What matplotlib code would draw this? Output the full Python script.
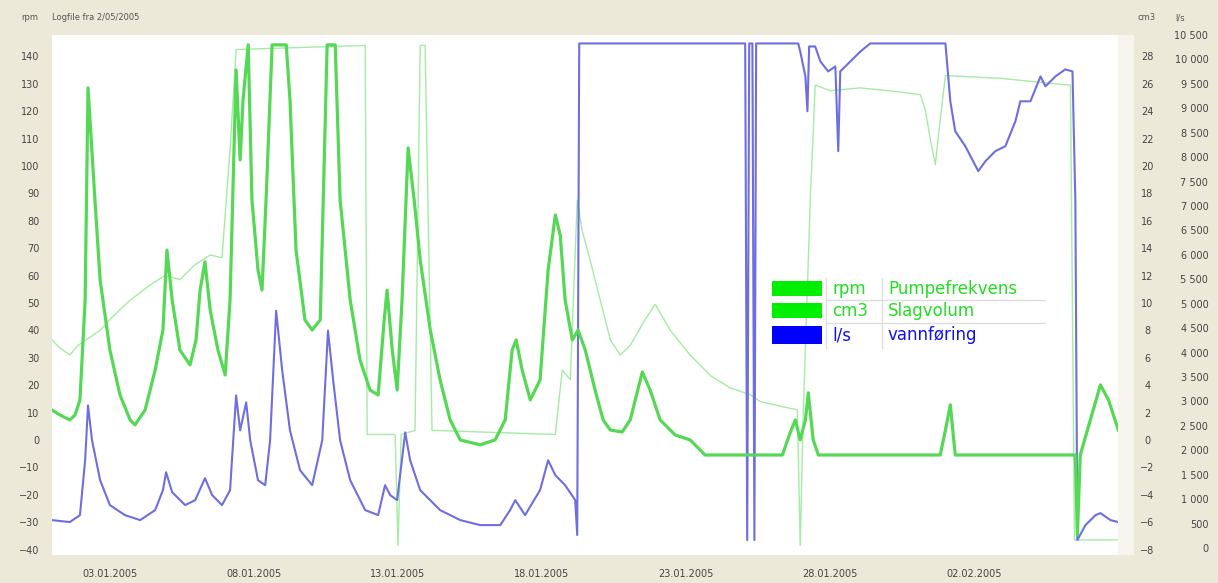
import numpy as np
import pandas as pd
import matplotlib
matplotlib.use("Agg")
import matplotlib.pyplot as plt
from matplotlib.patches import Rectangle
from matplotlib.lines import Line2D
from matplotlib.ticker import FuncFormatter

start = pd.Timestamp("2005-01-01")

# Pumpefrekvens (rpm) - days since 01.01.2005
rpm_days = [0.00, 0.28, 0.62, 0.80, 0.97, 1.15, 1.25, 1.49, 1.67, 2.01, 2.36, 2.71, 2.88, 3.23, 3.58,
            3.85, 3.99, 4.17, 4.44, 4.79, 5.00, 5.14, 5.31, 5.49, 5.76, 6.01, 6.18, 6.39, 6.53, 6.63,
            6.81, 6.94, 7.15, 7.29, 7.43, 7.64, 8.13, 8.26, 8.47, 8.78, 9.03, 9.31, 9.55, 9.83, 10.00,
            10.35, 10.69, 11.04, 11.32, 11.53, 11.63, 11.81, 11.98, 12.15, 12.36, 12.57, 12.78, 13.13,
            13.47, 13.82, 14.17, 14.86, 15.38, 15.73, 15.97, 16.11, 16.32, 16.60, 16.94, 17.22, 17.47,
            17.64, 17.81, 18.06, 18.26, 18.51, 18.85, 19.13, 19.38, 19.79, 20.07, 20.49, 20.76, 21.11,
            21.63, 22.15, 22.67, 25.35, 25.63, 25.80, 25.97, 26.15, 26.25, 26.42, 26.60, 30.83, 31.01,
            31.18, 31.35, 35.52, 35.59, 35.69, 36.04, 36.39, 36.67, 37.01]
rpm_vals = [10.9, 9.1, 7.3, 9.1, 14.6, 51.1, 128.5, 87.6, 58.4, 32.8, 16.4, 7.3, 5.5, 10.9, 25.5,
            40.1, 69.3, 51.1, 32.8, 27.4, 36.5, 54.7, 65.0, 47.4, 32.8, 23.7, 51.1, 135.0, 102.2, 124.1,
            144.2, 87.6, 62.0, 54.7, 87.6, 144.2, 144.2, 124.1, 69.3, 43.8, 40.1, 43.8, 144.2, 144.2, 87.6,
            51.1, 29.2, 18.2, 16.4, 43.8, 54.7, 32.8, 18.2, 51.1, 106.6, 87.6, 65.7, 40.1,
            21.9, 7.3, 0.0, -1.8, 0.0, 7.3, 32.8, 36.5, 25.5, 14.6, 21.9, 62.0, 82.1,
            74.8, 51.1, 36.5, 40.1, 32.8, 18.2, 7.3, 3.6, 2.9, 7.3, 24.8, 18.2, 7.3,
            1.8, 0.0, -5.5, -5.5, 2.9, 7.3, 0.0, 7.3, 17.2, 0.0, -5.5, -5.5, 3.6,
            12.8, -5.5, -5.5, -34.7, -5.5, 7.3, 20.1, 14.6, 3.6]

# Slagvolum (cm3)
cm3_days = [0.00, 0.28, 0.62, 0.90, 1.67, 2.01, 2.71, 3.40, 3.92, 4.44, 4.97, 5.49, 5.90, 6.18, 6.39,
            10.87, 10.94, 11.91, 12.01, 12.12, 12.60, 12.78, 12.95, 13.19, 17.47, 17.71, 17.99, 18.23,
            18.40, 18.68, 19.03, 19.38, 19.72, 20.07, 20.59, 20.94, 21.46, 22.15, 22.85, 23.54, 24.24,
            24.58, 25.63, 25.87, 25.97, 26.08, 26.32, 26.49, 27.01, 28.06, 29.44, 30.14, 30.31, 30.49,
            30.66, 30.83, 31.01, 32.92, 34.31, 35.35, 35.49, 37.01]
cm3_vals = [7.3, 6.7, 6.2, 6.9, 8.0, 8.8, 10.2, 11.3, 12.0, 11.7, 12.8, 13.5, 13.3, 21.2, 28.5,
            28.8, 0.4, 0.4, -7.7, 0.4, 0.7, 28.8, 28.8, 0.7, 0.4, 5.1, 4.4, 17.5,
            15.3, 13.1, 10.2, 7.3, 6.2, 6.9, 8.8, 9.9, 8.0, 6.2, 4.7, 3.8, 3.3,
            2.8, 2.3, 2.2, -7.7, 2.2, 17.5, 25.9, 25.5, 25.7, 25.4, 25.2, 24.1, 21.9,
            20.1, 23.4, 26.6, 26.4, 26.1, 25.9, -7.3, -7.3]

# vannføring (l/s)
ls_days = [0.00, 0.62, 0.97, 1.15, 1.25, 1.39, 1.67, 2.01, 2.53, 3.06, 3.58, 3.85, 3.96, 4.17, 4.62,
           4.97, 5.31, 5.56, 5.90, 6.18, 6.39, 6.53, 6.74, 6.88, 7.15, 7.40, 7.57, 7.78, 7.99, 8.26,
           8.61, 9.03, 9.38, 9.58, 9.76, 10.00, 10.35, 10.87, 11.32, 11.56, 11.74, 11.98, 12.26, 12.43,
           12.78, 13.47, 14.17, 14.86, 15.56, 15.90, 16.08, 16.42, 16.94, 17.22, 17.47, 17.81, 18.16,
           18.23, 18.30, 24.06, 24.13, 24.20, 24.31, 24.38, 24.44, 25.90, 25.97, 26.15, 26.22, 26.28,
           26.49, 26.67, 26.94, 27.19, 27.29, 27.36, 27.71, 28.06, 28.40, 31.01, 31.18, 31.35, 31.70,
           32.15, 32.40, 32.74, 33.09, 33.44, 33.61, 33.96, 34.31, 34.48, 34.83, 35.17, 35.42, 35.52,
           35.59, 35.87, 36.22, 36.39, 36.74, 37.01]
ls_vals = [571, 531, 673, 1796, 2918, 2204, 1388, 878, 673, 571, 776, 1184, 1551, 1143, 878,
           980, 1429, 1082, 878, 1184, 3122, 2408, 2980, 2204, 1388, 1286, 2204, 4857, 3633, 2408,
           1592, 1286, 2204, 4449, 3429, 2204, 1388, 776, 673, 1286, 1082, 980, 2367, 1796,
           1184, 776, 571, 469, 469, 776, 980, 673, 1184, 1796, 1490, 1286, 980,
           265, 10327, 10327, 163, 10327, 10327, 163, 10327, 10327, 10163, 9653, 8939, 10265,
           10265, 9959, 9755, 9857, 8122, 9755, 9959, 10163, 10327, 10327, 9143, 8531, 8224,
           7714, 7918, 8122, 8224, 8735, 9143, 9143, 9653, 9449, 9653, 9796, 9755, 7102,
           163, 469, 673, 714, 571, 531]

rpm_ticks = list(range(-40, 141, 10))
cm3_ticks = list(range(-8, 29, 2))
ls_ticks = list(range(0, 10501, 500))
date_ticks = ["2005-01-03", "2005-01-08", "2005-01-13", "2005-01-18",
              "2005-01-23", "2005-01-28", "2005-02-02"]

legend_rows = [("rpm", "Pumpefrekvens", "#00ee00", "#22dd22"),
               ("cm3", "Slagvolum", "#00ee00", "#22dd22"),
               ("l/s", "vannføring", "#0000ff", "#1111ee")]

W, H = 1218, 583
fig = plt.figure(figsize=(W / 100, H / 100), dpi=100, facecolor="#ece9d8")
ax = fig.add_axes([52 / W, 1 - 555 / H, (1118 - 52) / W, (555 - 35) / H])
ax2 = ax.twinx()
ax3 = ax.twinx()


def to_dates(days):
    return start + pd.to_timedelta(np.array(days), unit="D")


ax2.plot(to_dates(cm3_days), cm3_vals, color="#a4eca4", lw=1.0)
ax3.plot(to_dates(ls_days), ls_vals, color="#6e6ee0", lw=1.5)
ax.plot(to_dates(rpm_days), rpm_vals, color="#55d855", lw=2.3, zorder=3)
ax.set_zorder(3)
ax.patch.set_visible(False)
ax2.set_zorder(1)
ax3.set_zorder(2)
fig.patches.append(Rectangle((52 / W, 1 - 555 / H), (1118 - 52) / W, (555 - 35) / H,
                             transform=fig.transFigure, facecolor="white", edgecolor="none", zorder=0))
fig.patches.append(Rectangle((1118 / W, 1 - 555 / H), 16 / W, (555 - 35) / H,
                             transform=fig.transFigure, facecolor="#f6f5ee", edgecolor="none", zorder=0))

ax.set_xlim(start, start + pd.Timedelta(days=37))
ax.set_ylim(-42, 147.8)
ax2.set_ylim(-8.4, 29.56)
ax3.set_ylim(-143, 10469)

tick_color = "#444444"
ax.set_yticks(rpm_ticks)
ax.tick_params(axis="y", length=0, pad=9, labelsize=7, labelcolor=tick_color)
ax2.set_yticks(cm3_ticks)
ax2.tick_params(axis="y", length=0, pad=21, labelsize=7, labelcolor=tick_color)
for t in ax2.get_yticklabels():
    t.set_ha("center")
ax3.set_yticks(ls_ticks)
ax3.yaxis.set_major_formatter(FuncFormatter(lambda v, p: f"{int(v):,}".replace(",", " ")))
ax3.tick_params(axis="y", length=0, pad=65, labelsize=7, labelcolor=tick_color)
for t in ax3.get_yticklabels():
    t.set_ha("right")

ax.set_xticks(pd.to_datetime(date_ticks))
ax.set_xticklabels([pd.Timestamp(d).strftime("%d.%m.%Y") for d in date_ticks])
ax.tick_params(axis="x", length=0, pad=10, labelsize=7, labelcolor=tick_color)

for a in (ax, ax2, ax3):
    for s in a.spines.values():
        s.set_visible(False)

# header texts
fig.text(38 / W, 1 - 18 / H, "rpm", fontsize=6, color="#555555", ha="right", va="center")
fig.text(52 / W, 1 - 18 / H, "Logfile fra 2/05/2005", fontsize=6, color="#555555", va="center")
fig.text(1147 / W, 1 - 18 / H, "cm3", fontsize=6, color="#555555", ha="center", va="center")
fig.text(1180 / W, 1 - 18 / H, "l/s", fontsize=6, color="#555555", ha="center", va="center")

# legend table
row_tops = [280, 302, 325]
row_h = [17, 17, 20]
for (unit, name, sw, tc), top, h in zip(legend_rows, row_tops, row_h):
    fig.patches.append(Rectangle((772 / W, 1 - (top + h - 1) / H), 50 / W, (h - 2) / H,
                                 transform=fig.transFigure, facecolor=sw, edgecolor="none", zorder=5))
    yc = 1 - (top + h / 2) / H
    fig.text(832 / W, yc, unit, fontsize=12, color=tc, va="center", zorder=6)
    fig.text(888 / W, yc, name, fontsize=12, color=tc, va="center", zorder=6)
for xl in (826, 882):
    fig.lines.append(Line2D([xl / W, xl / W], [1 - 278 / H, 1 - 348 / H], transform=fig.transFigure,
                            color="#dddddd", lw=1, zorder=5))
for yl in (300, 323):
    fig.lines.append(Line2D([826 / W, 1045 / W], [1 - yl / H, 1 - yl / H], transform=fig.transFigure,
                            color="#dddddd", lw=1, zorder=5))

fig.savefig("out.png", dpi=100, facecolor=fig.get_facecolor())
